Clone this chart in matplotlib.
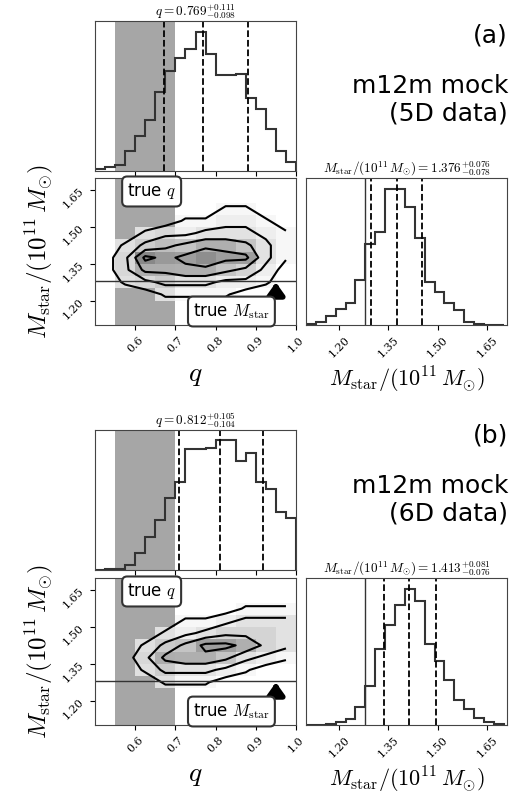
import matplotlib.pyplot as plt
import numpy as np

plt.rcParams['mathtext.fontset'] = 'cm'

# bin edges
q_edges = np.linspace(0.5, 1.0, 21)
m_edges = np.linspace(1.10, 1.70, 21)

# 1D histograms (relative heights)
q_hist_a = [0.01, 0.025, 0.04, 0.13, 0.23, 0.33, 0.51, 0.65, 0.73, 0.79,
            0.90, 0.76, 0.62, 0.62, 0.63, 0.47, 0.40, 0.27, 0.13, 0.06]
q_hist_b = [0.0, 0.005, 0.01, 0.035, 0.12, 0.23, 0.35, 0.50, 0.61, 0.84,
            0.84, 0.85, 0.90, 0.90, 0.76, 0.81, 0.61, 0.56, 0.40, 0.36]
m_hist_a = [0.007, 0.02, 0.06, 0.11, 0.15, 0.30, 0.54, 0.62, 0.91, 0.91,
            0.79, 0.58, 0.29, 0.22, 0.15, 0.10, 0.02, 0.007, 0.0, 0.0]
m_hist_b = [0.0, 0.002, 0.01, 0.02, 0.04, 0.12, 0.26, 0.51, 0.67, 0.80,
            0.91, 0.83, 0.54, 0.43, 0.30, 0.17, 0.11, 0.05, 0.02, 0.01]

# coarse 2D density grid: rows M 1.10..1.70 step 0.05, cols q 0.5..1.0 step 0.05
q2_edges = np.linspace(0.5, 1.0, 11)
m2_edges = np.linspace(1.10, 1.70, 13)
dens_a = np.array([
    [0, 0, 0, 0, 0, 0, 0, 0, 0, 0],
    [0, 0, 0, 0, 0, 0, 0, 0, 0, 0],
    [0, 0, 0, 1, 1, 1, 1, 0, 0, 0],
    [0, 1, 2, 3, 3, 3, 2, 2, 1, 0],
    [0, 2, 5, 5, 6, 6, 5, 4, 2, 0],
    [0, 2, 7, 6, 7, 8, 7, 7, 3, 1],
    [0, 1, 3, 4, 5, 6, 6, 5, 3, 1],
    [0, 0, 1, 2, 2, 3, 3, 3, 2, 1],
    [0, 0, 0, 0, 1, 1, 2, 2, 1, 0],
    [0, 0, 0, 0, 0, 0, 1, 1, 0, 0],
    [0, 0, 0, 0, 0, 0, 0, 0, 0, 0],
    [0, 0, 0, 0, 0, 0, 0, 0, 0, 0]], dtype=float)
dens_b = np.array([
    [0, 0, 0, 0, 0, 0, 0, 0, 0, 0],
    [0, 0, 0, 0, 0, 0, 0, 0, 0, 0],
    [0, 0, 0, 0, 0, 0, 0, 0, 0, 0],
    [0, 0, 0, 1, 1, 1, 0, 0, 0, 0],
    [0, 0, 1, 3, 3, 3, 2, 1, 0, 0],
    [0, 0, 2, 5, 6, 6, 5, 3, 2, 1],
    [0, 0, 1, 3, 5, 7, 7, 6, 4, 3],
    [0, 0, 0, 1, 2, 3, 4, 4, 4, 3],
    [0, 0, 0, 0, 1, 1, 2, 3, 3, 3],
    [0, 0, 0, 0, 0, 0, 0, 1, 1, 1],
    [0, 0, 0, 0, 0, 0, 0, 0, 0, 0],
    [0, 0, 0, 0, 0, 0, 0, 0, 0, 0]], dtype=float)

# summary numbers
q_stats = [(0.769, 0.111, 0.098), (0.812, 0.105, 0.104)]
m_stats = [(1.376, 0.076, 0.078), (1.413, 0.081, 0.076)]
true_m = 1.28
q_band = (0.55, 0.70)
panel_tags = ['(a)', '(b)']
panel_text = ['m12m mock\n(5D data)', 'm12m mock\n(6D data)']

W, H = 520, 798
fig = plt.figure(figsize=(W / 100, H / 100), dpi=100)

def ax_px(x0, x1, y0, y1):
    return fig.add_axes([x0 / W, 1 - y1 / H, (x1 - x0) / W, (y1 - y0) / H])

mlabel = r'$M_{\rm star}/(10^{11}\,M_{\odot})$'

def fmt_ticks(ax):
    for lab in ax.get_xticklabels() + ax.get_yticklabels():
        lab.set_rotation(45)
        lab.set_fontfamily('DejaVu Serif')
        lab.set_fontsize(8)

offsets = [0, 400]
tops = [(21, 171), (430, 570)]
for i in range(2):
    off = offsets[i]
    qv, qp, qm = q_stats[i]
    mv, mp, mm = m_stats[i]
    qh = [q_hist_a, q_hist_b][i]
    mh = [m_hist_a, m_hist_b][i]
    dens = [dens_a, dens_b][i]

    # top histogram
    ax1 = ax_px(95, 296, tops[i][0], tops[i][1])
    ax1.axvspan(*q_band, color='#a6a6a6', lw=0)
    ax1.stairs(qh, q_edges, color='#333333', lw=1.5)
    for v in (qv - qm, qv, qv + qp):
        ax1.axvline(v, color='k', ls='--', lw=1.3)
    ax1.set_xlim(0.5, 1.0)
    ax1.set_ylim(0, max(qh) * 1.08)
    ax1.set_yticks([])
    ax1.set_xticks([0.6, 0.7, 0.8, 0.9, 1.0])
    ax1.set_xticklabels([])
    ax1.set_title(r'$q = %.3f^{+%.3f}_{-%.3f}$' % (qv, qp, qm), fontsize=9.5, pad=2)

    # 2D panel
    ax2 = ax_px(95, 296, 178 + off, 325 + off)
    ax2.axvspan(*q_band, color='#a6a6a6', lw=0)
    dm = np.ma.masked_less(dens, 1)
    ax2.pcolormesh(q2_edges, m2_edges, dm, cmap='Greys', vmin=0, vmax=12, alpha=0.75)
    qc = 0.5 * (q2_edges[1:] + q2_edges[:-1])
    mc = 0.5 * (m2_edges[1:] + m2_edges[:-1])
    ax2.contour(qc, mc, dens, levels=[0.8, 2.5, 4.5, 6.5], colors='k', linewidths=1.5)
    ax2.axhline(true_m, color='#333333', lw=1)
    ax2.annotate('', xy=(0.95, true_m + 0.005), xytext=(0.95, true_m - 0.055),
                 arrowprops=dict(arrowstyle='-|>,head_width=0.5,head_length=0.7',
                                 color='k', lw=4))
    bbox = dict(boxstyle='round,pad=0.3', fc='white', ec='#333333', lw=1.5)
    ax2.text(0.58, 1.645, r'true $q$', fontsize=12, ha='left', va='center', bbox=bbox)
    ax2.text(0.935, 1.155, r'true $M_{\rm star}$', fontsize=12, ha='right', va='center', bbox=bbox)
    ax2.set_xlim(0.5, 1.0)
    ax2.set_ylim(1.10, 1.70)
    ax2.set_xticks([0.6, 0.7, 0.8, 0.9, 1.0])
    ax2.set_yticks([1.20, 1.35, 1.50, 1.65])
    ax2.set_yticklabels(['1.20', '1.35', '1.50', '1.65'])
    fmt_ticks(ax2)
    ax2.set_xlabel(r'$q$', fontsize=20)
    ax2.set_ylabel(mlabel, fontsize=18)

    # right histogram
    ax3 = ax_px(306, 507, 178 + off, 325 + off)
    ax3.stairs(mh, m_edges, color='#333333', lw=1.5)
    ax3.axvline(true_m, color='#333333', lw=1)
    for v in (mv - mm, mv, mv + mp):
        ax3.axvline(v, color='k', ls='--', lw=1.3)
    ax3.set_xlim(1.10, 1.71)
    ax3.set_ylim(0, max(mh) * 1.08)
    ax3.set_yticks([])
    ax3.set_xticks([1.20, 1.35, 1.50, 1.65])
    ax3.set_xticklabels(['1.20', '1.35', '1.50', '1.65'])
    fmt_ticks(ax3)
    ax3.set_xlabel(mlabel, fontsize=16)
    ax3.set_title(r'$M_{\rm star}/(10^{11}\,M_{\odot}) = %.3f^{+%.3f}_{-%.3f}$' % (mv, mp, mm),
                  fontsize=9.5, pad=3)

    for ax in (ax1, ax2, ax3):
        for s in ax.spines.values():
            s.set_color('#444444')

    fig.text(508 / W, 1 - (35 + off) / H, panel_tags[i], fontsize=18, ha='right', va='center')
    fig.text(508 / W, 1 - (100 + off) / H, panel_text[i], fontsize=18, ha='right', va='center',
             linespacing=1.2)

fig.savefig('out.png', dpi=100)
